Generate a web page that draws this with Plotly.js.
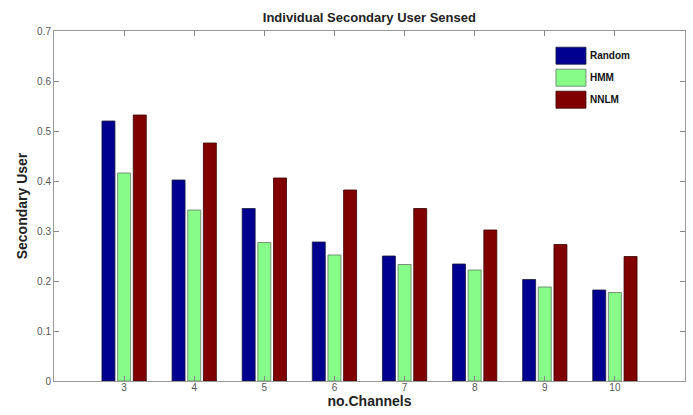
<!DOCTYPE html>
<html>
<head>
<meta charset="utf-8">
<script src="https://cdn.plot.ly/plotly-3.0.1.min.js"></script>
<style>html,body{margin:0;padding:0;background:#fff;}#chart{width:693px;height:415px;}</style>
</head>
<body>
<div id="chart"></div>
<script>
const channels = [3, 4, 5, 6, 7, 8, 9, 10];
const randomVals = [0.520, 0.402, 0.345, 0.278, 0.250, 0.234, 0.203, 0.182];
const hmmVals    = [0.416, 0.342, 0.277, 0.252, 0.233, 0.222, 0.188, 0.177];
const nnlmVals   = [0.532, 0.476, 0.406, 0.382, 0.345, 0.302, 0.273, 0.249];
const yTicks = [0, 0.1, 0.2, 0.3, 0.4, 0.5, 0.6, 0.7];
const yTickText = ['0', '0.1', '0.2', '0.3', '0.4', '0.5', '0.6', '0.7'];

const FONT = 'Liberation Sans, Arial, sans-serif';
const traces = [
  {type: 'bar', name: 'Random', legendgroup: 'a', x: channels, y: randomVals,
   marker: {color: '#000090', line: {color: '#1a1a40', width: 0.8}}},
  {type: 'bar', name: 'HMM', legendgroup: 'b', x: channels, y: hmmVals,
   marker: {color: '#88fc88', line: {color: '#667766', width: 0.8}}},
  {type: 'bar', name: 'NNLM', legendgroup: 'c', x: channels, y: nnlmVals,
   marker: {color: '#800000', line: {color: '#3a0000', width: 0.8}}}
];

const layout = {
  width: 693, height: 415,
  margin: {l: 54, r: 8, t: 31, b: 34},
  paper_bgcolor: '#fff', plot_bgcolor: '#fff',
  font: {family: FONT, color: '#444'},
  barmode: 'group', bargap: 0.33, bargroupgap: 0.17,
  title: {text: 'Individual Secondary User Sensed', x: 0.533, xanchor: 'center', y: 0.958, yanchor: 'middle',
          font: {family: FONT, size: 13, color: '#222', weight: 'bold'}},
  xaxis: {
    range: [2, 11], tickvals: channels, ticktext: channels.map(String),
    ticks: 'inside', ticklen: 5, tickcolor: '#888', showline: true, linecolor: '#999', linewidth: 1,
    mirror: 'ticks', showgrid: false, zeroline: false, ticklabelstandoff: -3,
    tickfont: {family: FONT, size: 10, color: '#555'},
    title: {text: 'no.Channels', standoff: 3, font: {family: FONT, size: 14, color: '#222', weight: 'bold'}}
  },
  yaxis: {
    range: [0, 0.7], tickvals: yTicks, ticktext: yTickText,
    ticks: 'inside', ticklen: 5, tickcolor: '#888', showline: true, linecolor: '#999', linewidth: 1,
    mirror: 'ticks', showgrid: false, zeroline: false,
    tickfont: {family: FONT, size: 10, color: '#555'},
    title: {text: 'Secondary User', standoff: 6, font: {family: FONT, size: 14, color: '#222', weight: 'bold'}}
  },
  legend: {x: 0.786, y: 0.972, xanchor: 'left', yanchor: 'top', bgcolor: 'rgba(0,0,0,0)',
           font: {family: FONT, size: 10, color: '#111', weight: 'bold'}, tracegroupgap: 3,
           itemwidth: 30, traceorder: 'grouped'},
  showlegend: true
};

Plotly.newPlot('chart', traces, layout, {displayModeBar: false, staticPlot: true}).then(function(gd){
  document.querySelectorAll('.legend .traces').forEach(function(t){
    const txt = t.querySelector('text.legendtext');
    const paths = t.querySelectorAll('.legendpoints path');
    if (!txt || !paths.length) return;
    const tb = txt.getBoundingClientRect();
    const cy = tb.top + tb.height / 2;
    paths.forEach(function(p, i){
      if (i > 0) { p.style.display = 'none'; return; }
      p.removeAttribute('transform');
      const m = p.getScreenCTM();
      const right = tb.left - 4, left = right - 30;
      const top = cy - 8.5, bottom = cy + 8.5;
      const lx1 = (left - m.e) / m.a, lx2 = (right - m.e) / m.a;
      const ly1 = (top - m.f) / m.d, ly2 = (bottom - m.f) / m.d;
      p.setAttribute('d', 'M' + lx1 + ',' + ly1 + 'H' + lx2 + 'V' + ly2 + 'H' + lx1 + 'Z');
    });
  });
});
</script>
</body>
</html>
